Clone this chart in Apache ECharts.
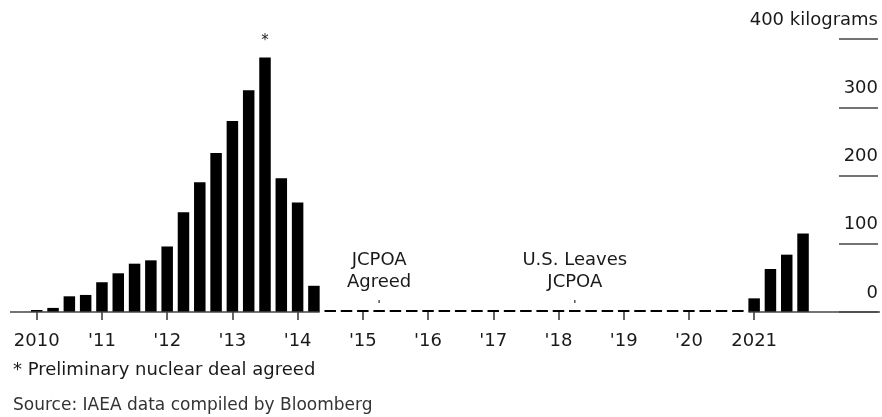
<!DOCTYPE html>
<html>
<head>
<meta charset="utf-8">
<title>Iran 20% enriched uranium stockpile</title>
<script src="https://cdn.jsdelivr.net/npm/echarts@6/dist/echarts.min.js"></script>
<style>
  html, body { margin: 0; padding: 0; background: #fff; }
  #chart { width: 882px; height: 417px; }
</style>
</head>
<body>
<div id="chart"></div>
<script>
// Quarterly stockpile of 20% enriched uranium, kilograms
const quarters = [
  2010.00, 2010.25, 2010.50, 2010.75,
  2011.00, 2011.25, 2011.50, 2011.75,
  2012.00, 2012.25, 2012.50, 2012.75,
  2013.00, 2013.25, 2013.50, 2013.75,
  2014.00, 2014.25, 2014.50, 2014.75,
  2015.00, 2015.25, 2015.50, 2015.75,
  2016.00, 2016.25, 2016.50, 2016.75,
  2017.00, 2017.25, 2017.50, 2017.75,
  2018.00, 2018.25, 2018.50, 2018.75,
  2019.00, 2019.25, 2019.50, 2019.75,
  2020.00, 2020.25, 2020.50, 2020.75,
  2021.00, 2021.25, 2021.50, 2021.75
];
const stockpileKg = [
  0, 6, 23, 25,
  43.6, 56.7, 70.8, 75.7,
  96, 146, 190, 233,
  280, 325, 373, 196,
  160.6, 38.4, 0, 0,
  0, 0, 0, 0,
  0, 0, 0, 0,
  0, 0, 0, 0,
  0, 0, 0, 0,
  0, 0, 0, 0,
  0, 0, 0, 0,
  20, 63, 84, 115
];
const yearTicks = [2010, 2011, 2012, 2013, 2014, 2015, 2016, 2017, 2018, 2019, 2020, 2021];
const valueTicks = [0, 100, 200, 300, 400];
const starredQuarter = 2013.5;
const footnote = '* Preliminary nuclear deal agreed';
const sourceNote = 'Source: IAEA data compiled by Bloomberg';
const eventDates = [2015.25, 2018.25];
const eventLabels = ['JCPOA\nAgreed', 'U.S. Leaves\nJCPOA'];

const FONT = '"DejaVu Sans", "Liberation Sans", Arial, sans-serif';
const INK = '#1a1a1a';
const X_MIN = 2009.59, X_MAX = 2022.93;
const GRID_LEFT = 10, GRID_RIGHT = 2;
const BAR_W = 11.5;

const chart = echarts.init(document.getElementById('chart'), null, { renderer: 'canvas' });

// Solid baseline only under the stretches that carry a stockpile; empty quarters show as dashes
const plotWidth = 882 - GRID_LEFT - GRID_RIGHT;
const halfBar = (BAR_W / 2) / (plotWidth / (X_MAX - X_MIN));
let lastEarly = null, firstLate = null;
for (let i = 0; i < quarters.length; i++) {
  if (stockpileKg[i] > 0) {
    if (firstLate === null && lastEarly !== null && i > 0 && stockpileKg[i - 1] === 0 && quarters[i] > lastEarly + 0.5) {
      firstLate = quarters[i];
    } else if (firstLate === null) {
      lastEarly = quarters[i];
    }
  }
}
const baselineSegments = [
  [{ coord: [X_MIN, 0] }, { coord: [lastEarly + halfBar, 0] }],
  [{ coord: [firstLate - halfBar, 0] }, { coord: [X_MAX, 0] }]
];

const yearLabel = v => (v === yearTicks[0] || v === yearTicks[yearTicks.length - 1])
  ? String(v) : "'" + String(v).slice(2);

chart.setOption({
  backgroundColor: '#ffffff',
  animation: false,
  textStyle: { fontFamily: FONT },
  title: [
    { text: footnote, left: 8, top: 356,
      textStyle: { fontFamily: FONT, fontSize: 18, fontWeight: 'normal', color: INK } },
    { text: sourceNote, left: 8, top: 392,
      textStyle: { fontFamily: FONT, fontSize: 17, fontWeight: 'normal', color: '#333' } }
  ],
  grid: [
    { left: GRID_LEFT, right: GRID_RIGHT, top: 39, bottom: 105, containLabel: false },
    { left: 839, right: 4, top: 39, bottom: 105, containLabel: false }
  ],
  xAxis: [
    {
      type: 'value', gridIndex: 0, min: X_MIN, max: X_MAX,
      axisLine: { show: false },
      splitLine: { show: false },
      axisTick: { show: true, customValues: yearTicks, length: 8, lineStyle: { color: '#333', width: 1.5 } },
      axisLabel: { show: true, customValues: yearTicks, formatter: yearLabel, margin: 20,
        fontFamily: FONT, fontSize: 18, color: INK }
    },
    { type: 'value', gridIndex: 1, min: 0, max: 1, show: false }
  ],
  yAxis: [
    { type: 'value', gridIndex: 0, min: 0, max: 400, interval: 100, show: false },
    {
      type: 'value', gridIndex: 1, min: 0, max: 400, interval: 100, position: 'right',
      axisLine: { show: false }, axisTick: { show: false },
      splitLine: { show: true, lineStyle: { color: '#444', width: 1.5 } },
      axisLabel: {
        show: true, inside: true, margin: 0, align: 'right', verticalAlign: 'bottom',
        padding: [0, 0, 10, 0], showMinLabel: true, showMaxLabel: true,
        fontFamily: FONT, fontSize: 18, color: INK,
        formatter: v => v === valueTicks[valueTicks.length - 1] ? v + ' kilograms' : String(v)
      }
    }
  ],
  series: [
    {
      type: 'bar', xAxisIndex: 0, yAxisIndex: 0,
      barWidth: BAR_W, barMinHeight: 2,
      itemStyle: { color: '#000' },
      data: quarters.map((q, i) => {
        const item = { value: [q, stockpileKg[i]] };
        if (q === starredQuarter) {
          item.label = { show: true, position: 'top', distance: 9, formatter: '*',
            fontFamily: FONT, fontSize: 15, color: INK };
        }
        return item;
      }),
      markLine: {
        silent: true, symbol: ['none', 'none'], label: { show: false },
        lineStyle: { color: '#444', width: 1.5, type: 'solid' },
        data: baselineSegments
      }
    },
    {
      type: 'scatter', xAxisIndex: 0, yAxisIndex: 0,
      symbol: 'rect', symbolSize: [1.5, 3], symbolOffset: [0, -10.5],
      itemStyle: { color: '#555', opacity: 1 },
      label: {
        show: true, position: 'top', distance: 7, opacity: 1,
        fontFamily: FONT, fontSize: 18, lineHeight: 21.5, color: INK, align: 'center',
        formatter: p => eventLabels[p.dataIndex]
      },
      data: eventDates.map(d => [d, 0])
    }
  ]
});
</script>
</body>
</html>
